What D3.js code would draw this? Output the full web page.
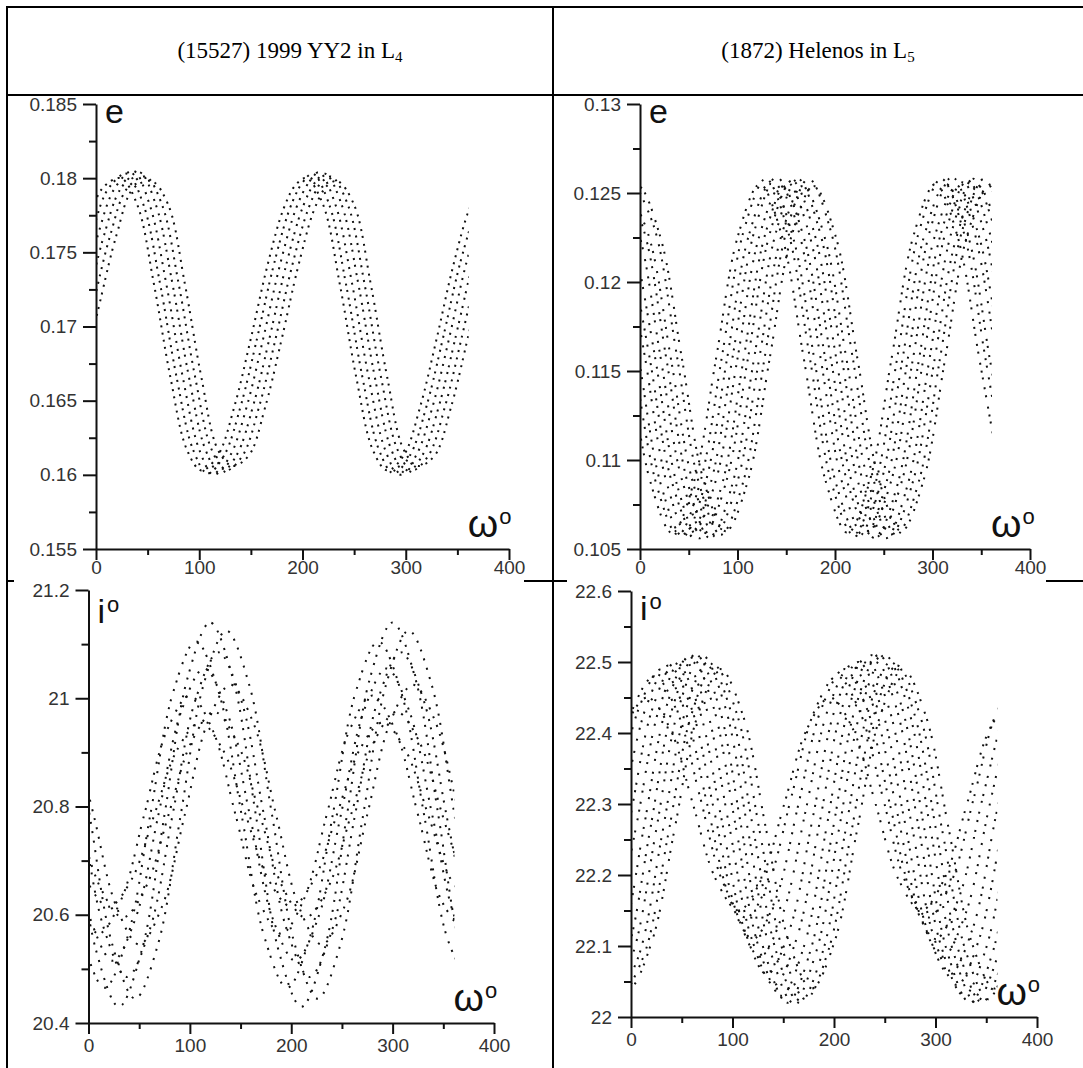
<!DOCTYPE html>
<html>
<head>
<meta charset="utf-8">
<script src="https://cdn.jsdelivr.net/npm/d3@7"></script>
<style>
  body { margin: 0; background: #fff; }
  svg text { font-family: "Liberation Sans", Arial, sans-serif; }
</style>
</head>
<body>
<svg id="fig" width="1083" height="1068"></svg>
<script>
// ---- data ----
// column titles
const titleTexts = [["(15527) 1999 YY2 in L", "4"], ["(1872) Helenos in L", "5"]];

// axis ticks
const omegaTicks = [0, 100, 200, 300, 400];
const omegaMinor = [50, 150, 250, 350];
const yy2ETicks = [0.155, 0.16, 0.165, 0.17, 0.175, 0.18, 0.185];
const yy2EMinor = [0.1575, 0.1625, 0.1675, 0.1725, 0.1775, 0.1825];
const helETicks = [0.105, 0.11, 0.115, 0.12, 0.125, 0.13];
const helEMinor = [0.1075, 0.1125, 0.1175, 0.1225, 0.1275];
const yy2ITicks = [20.4, 20.6, 20.8, 21, 21.2];
const yy2IMinor = [20.5, 20.7, 20.9, 21.1];
const helITicks = [22, 22.1, 22.2, 22.3, 22.4, 22.5, 22.6];
const helIMinor = [22.05, 22.15, 22.25, 22.35, 22.45, 22.55];

// dotted tracks [omega, value], traced along the dot streams of each plot
const yy2EStrands = [
  [[-26,.1717],[-10,.1762],[6,.1793],[24,.1800],[40,.1782],[56,.1729],[72,.1666],[88,.1617],[102,.1603],[118,.1613],[134,.1646],[150,.1692],[166,.1741],[182,.1780],[194,.1796],[204,.1800],[220,.1782],[236,.1729],[252,.1666],[268,.1617],[282,.1603],[298,.1613],[314,.1646],[330,.1692],[346,.1741],[362,.1780],[374,.1796]],
  [[-20,.1717],[-4,.1762],[12,.1793],[30,.1803],[46,.1782],[62,.1729],[78,.1666],[94,.1617],[108,.1601],[124,.1613],[140,.1646],[156,.1692],[172,.1741],[188,.1780],[200,.1797],[210,.1803],[226,.1782],[242,.1729],[258,.1666],[274,.1617],[288,.1601],[304,.1613],[320,.1646],[336,.1692],[352,.1741],[368,.1780]],
  [[-14,.1717],[2,.1762],[18,.1793],[36,.1805],[52,.1782],[68,.1729],[84,.1666],[100,.1617],[114,.1600],[130,.1613],[146,.1646],[162,.1692],[178,.1741],[194,.1780],[206,.1797],[216,.1804],[232,.1782],[248,.1729],[264,.1666],[280,.1617],[294,.1600],[310,.1613],[326,.1646],[342,.1692],[358,.1741],[374,.1780]],
  [[-24,.1668],[-8,.1717],[8,.1762],[24,.1793],[42,.1804],[58,.1782],[74,.1729],[90,.1666],[106,.1617],[120,.1601],[136,.1613],[152,.1646],[168,.1692],[184,.1741],[200,.1780],[212,.1797],[222,.1803],[238,.1782],[254,.1729],[270,.1666],[286,.1617],[300,.1601],[316,.1613],[332,.1646],[348,.1692],[364,.1741]],
  [[-18,.1668],[-2,.1717],[14,.1762],[30,.1793],[48,.1801],[64,.1782],[80,.1729],[96,.1666],[112,.1617],[126,.1603],[142,.1613],[158,.1646],[174,.1692],[190,.1741],[206,.1780],[218,.1797],[228,.1801],[244,.1782],[260,.1729],[276,.1666],[292,.1617],[306,.1603],[322,.1613],[338,.1646],[354,.1692],[370,.1741]],
  [[-12,.1668],[4,.1717],[20,.1762],[36,.1793],[54,.1798],[70,.1782],[86,.1729],[102,.1666],[118,.1617],[132,.1606],[148,.1613],[164,.1646],[180,.1692],[196,.1741],[212,.1780],[224,.1795],[234,.1798],[250,.1782],[266,.1729],[282,.1666],[298,.1617],[312,.1606],[328,.1613],[344,.1646],[360,.1692],[376,.1741]]
];

const helEStrands = [
  [[-12,.1157],[10.5,.1088],[33,.1059],[55.5,.1088],[78,.1157],[100.5,.1226],[123,.1255],[145.5,.1226],[168,.1157],[190.5,.1088],[213,.1059],[235.5,.1088],[258,.1157],[280.5,.1226],[303,.1255],[325.5,.1226],[348,.1157],[370.5,.1088]],
  [[-6,.1158],[16.5,.1087],[39,.1058],[61.5,.1087],[84,.1158],[106.5,.1229],[129,.1258],[151.5,.1229],[174,.1158],[196.5,.1087],[219,.1058],[241.5,.1087],[264,.1158],[286.5,.1229],[309,.1258],[331.5,.1229],[354,.1158],[376.5,.1087]],
  [[-23.5,.1226],[-1,.1156],[21.5,.1086],[44,.1057],[66.5,.1086],[89,.1156],[111.5,.1226],[134,.1255],[156.5,.1226],[179,.1156],[201.5,.1086],[224,.1057],[246.5,.1086],[269,.1156],[291.5,.1226],[314,.1255],[336.5,.1226],[359,.1156],[381.5,.1086]],
  [[-17.5,.1229],[5,.1158],[27.5,.1087],[50,.1057],[72.5,.1087],[95,.1158],[117.5,.1229],[140,.1259],[162.5,.1229],[185,.1158],[207.5,.1087],[230,.1057],[252.5,.1087],[275,.1158],[297.5,.1229],[320,.1259],[342.5,.1229],[365,.1158]],
  [[-12.5,.1226],[10,.1157],[32.5,.1088],[55,.1060],[77.5,.1088],[100,.1157],[122.5,.1226],[145,.1254],[167.5,.1226],[190,.1157],[212.5,.1088],[235,.1060],[257.5,.1088],[280,.1157],[302.5,.1226],[325,.1254],[347.5,.1226],[370,.1157]],
  [[-6.5,.1227],[16,.1156],[38.5,.1085],[61,.1056],[83.5,.1085],[106,.1156],[128.5,.1227],[151,.1256],[173.5,.1227],[196,.1156],[218.5,.1085],[241,.1056],[263.5,.1085],[286,.1156],[308.5,.1227],[331,.1256],[353.5,.1227],[376,.1156]],
  [[-24,.1257],[-1.5,.1228],[21,.1158],[43.5,.1088],[66,.1059],[88.5,.1088],[111,.1158],[133.5,.1228],[156,.1257],[178.5,.1228],[201,.1158],[223.5,.1088],[246,.1059],[268.5,.1088],[291,.1158],[313.5,.1228],[336,.1257],[358.5,.1228],[381,.1158]],
  [[-18,.1258],[4.5,.1228],[27,.1157],[49.5,.1086],[72,.1056],[94.5,.1086],[117,.1157],[139.5,.1228],[162,.1258],[184.5,.1228],[207,.1157],[229.5,.1086],[252,.1056],[274.5,.1086],[297,.1157],[319.5,.1228],[342,.1258],[364.5,.1228]],
  [[-13,.1254],[9.5,.1225],[32,.1156],[54.5,.1087],[77,.1058],[99.5,.1087],[122,.1156],[144.5,.1225],[167,.1254],[189.5,.1225],[212,.1156],[234.5,.1087],[257,.1058],[279.5,.1087],[302,.1156],[324.5,.1225],[347,.1254],[369.5,.1225]],
  [[-7,.1258],[15.5,.1229],[38,.1158],[60.5,.1087],[83,.1058],[105.5,.1087],[128,.1158],[150.5,.1229],[173,.1258],[195.5,.1229],[218,.1158],[240.5,.1087],[263,.1058],[285.5,.1087],[308,.1158],[330.5,.1229],[353,.1258],[375.5,.1229]],
  [[-24.5,.1226],[-2,.1254],[20.5,.1226],[43,.1157],[65.5,.1088],[88,.1060],[110.5,.1088],[133,.1157],[155.5,.1226],[178,.1254],[200.5,.1226],[223,.1157],[245.5,.1088],[268,.1060],[290.5,.1088],[313,.1157],[335.5,.1226],[358,.1254],[380.5,.1226]]
];

const yy2IStrands = [
  [[-15,20.785],[7.5,20.534],[30,20.430],[52.5,20.534],[75,20.785],[97.5,21.036],[120,21.140],[142.5,21.036],[165,20.785],[187.5,20.534],[210,20.430],[232.5,20.534],[255,20.785],[277.5,21.036],[300,21.140],[322.5,21.036],[345,20.785],[367.5,20.534],[390,20.430]],
  [[-21.5,21.025],[1,20.785],[23.5,20.545],[46,20.445],[68.5,20.545],[91,20.785],[113.5,21.025],[136,21.125],[158.5,21.025],[181,20.785],[203.5,20.545],[226,20.445],[248.5,20.545],[271,20.785],[293.5,21.025],[316,21.125],[338.5,21.025],[361,20.785],[383.5,20.545]],
  [[-29,20.785],[-6.5,20.559],[16,20.465],[38.5,20.559],[61,20.785],[83.5,21.011],[106,21.105],[128.5,21.011],[151,20.785],[173.5,20.559],[196,20.465],[218.5,20.559],[241,20.785],[263.5,21.011],[286,21.105],[308.5,21.011],[331,20.785],[353.5,20.559],[376,20.465]],
  [[-29.5,20.997],[-7,20.785],[15.5,20.573],[38,20.485],[60.5,20.573],[83,20.785],[105.5,20.997],[128,21.085],[150.5,20.997],[173,20.785],[195.5,20.573],[218,20.485],[240.5,20.573],[263,20.785],[285.5,20.997],[308,21.085],[330.5,20.997],[353,20.785],[375.5,20.573]],
  [[-21,20.785],[1.5,20.594],[24,20.515],[46.5,20.594],[69,20.785],[91.5,20.976],[114,21.055],[136.5,20.976],[159,20.785],[181.5,20.594],[204,20.515],[226.5,20.594],[249,20.785],[271.5,20.976],[294,21.055],[316.5,20.976],[339,20.785],[361.5,20.594],[384,20.515]],
  [[-17.5,20.955],[5,20.785],[27.5,20.615],[50,20.545],[72.5,20.615],[95,20.785],[117.5,20.955],[140,21.025],[162.5,20.955],[185,20.785],[207.5,20.615],[230,20.545],[252.5,20.615],[275,20.785],[297.5,20.955],[320,21.025],[342.5,20.955],[365,20.785]],
  [[-12.5,20.629],[10,20.565],[32.5,20.629],[55,20.785],[77.5,20.941],[100,21.005],[122.5,20.941],[145,20.785],[167.5,20.629],[190,20.565],[212.5,20.629],[235,20.785],[257.5,20.941],[280,21.005],[302.5,20.941],[325,20.785],[347.5,20.629],[370,20.565]],
  [[-11,20.785],[11.5,20.651],[34,20.595],[56.5,20.651],[79,20.785],[101.5,20.919],[124,20.975],[146.5,20.919],[169,20.785],[191.5,20.651],[214,20.595],[236.5,20.651],[259,20.785],[281.5,20.919],[304,20.975],[326.5,20.919],[349,20.785],[371.5,20.651]],
  [[-25,20.785],[-2.5,20.665],[20,20.615],[42.5,20.665],[65,20.785],[87.5,20.905],[110,20.955],[132.5,20.905],[155,20.785],[177.5,20.665],[200,20.615],[222.5,20.665],[245,20.785],[267.5,20.905],[290,20.955],[312.5,20.905],[335,20.785],[357.5,20.665],[380,20.615]]
];

const helIStrands = [
  [[-29,22.30],[-6.5,22.406],[16,22.45],[38.5,22.406],[61,22.30],[83.5,22.194],[106,22.15],[128.5,22.194],[151,22.30],[173.5,22.406],[196,22.45],[218.5,22.406],[241,22.30],[263.5,22.194],[286,22.15],[308.5,22.194],[331,22.30],[353.5,22.406],[376,22.45]],
  [[-22,22.31],[0.5,22.43],[23,22.48],[45.5,22.43],[68,22.31],[90.5,22.19],[113,22.14],[135.5,22.19],[158,22.31],[180.5,22.43],[203,22.48],[225.5,22.43],[248,22.31],[270.5,22.19],[293,22.14],[315.5,22.19],[338,22.31],[360.5,22.43],[383,22.48]],
  [[-15,22.30],[7.5,22.434],[30,22.49],[52.5,22.434],[75,22.30],[97.5,22.166],[120,22.11],[142.5,22.166],[165,22.30],[187.5,22.434],[210,22.49],[232.5,22.434],[255,22.30],[277.5,22.166],[300,22.11],[322.5,22.166],[345,22.30],[367.5,22.434]],
  [[-8,22.29],[14.5,22.435],[37,22.495],[59.5,22.435],[82,22.29],[104.5,22.145],[127,22.085],[149.5,22.145],[172,22.29],[194.5,22.435],[217,22.495],[239.5,22.435],[262,22.29],[284.5,22.145],[307,22.085],[329.5,22.145],[352,22.29],[374.5,22.435]],
  [[-23.5,22.124],[-1,22.28],[21.5,22.436],[44,22.50],[66.5,22.436],[89,22.28],[111.5,22.124],[134,22.06],[156.5,22.124],[179,22.28],[201.5,22.436],[224,22.50],[246.5,22.436],[269,22.28],[291.5,22.124],[314,22.06],[336.5,22.124],[359,22.28],[381.5,22.436]],
  [[-16.5,22.112],[6,22.275],[28.5,22.438],[51,22.505],[73.5,22.438],[96,22.275],[118.5,22.112],[141,22.045],[163.5,22.112],[186,22.275],[208.5,22.438],[231,22.505],[253.5,22.438],[276,22.275],[298.5,22.112],[321,22.045],[343.5,22.112],[366,22.275]],
  [[-32,22.03],[-9.5,22.10],[13,22.27],[35.5,22.44],[58,22.51],[80.5,22.44],[103,22.27],[125.5,22.10],[148,22.03],[170.5,22.10],[193,22.27],[215.5,22.44],[238,22.51],[260.5,22.44],[283,22.27],[305.5,22.10],[328,22.03],[350.5,22.10],[373,22.27]],
  [[-26,22.02],[-3.5,22.092],[19,22.265],[41.5,22.438],[64,22.51],[86.5,22.438],[109,22.265],[131.5,22.092],[154,22.02],[176.5,22.092],[199,22.265],[221.5,22.438],[244,22.51],[266.5,22.438],[289,22.265],[311.5,22.092],[334,22.02],[356.5,22.092],[379,22.265]],
  [[-20,22.02],[2.5,22.092],[25,22.265],[47.5,22.438],[70,22.51],[92.5,22.438],[115,22.265],[137.5,22.092],[160,22.02],[182.5,22.092],[205,22.265],[227.5,22.438],[250,22.51],[272.5,22.438],[295,22.265],[317.5,22.092],[340,22.02],[362.5,22.092]],
  [[-14,22.02],[8.5,22.09],[31,22.26],[53.5,22.43],[76,22.50],[98.5,22.43],[121,22.26],[143.5,22.09],[166,22.02],[188.5,22.09],[211,22.26],[233.5,22.43],[256,22.50],[278.5,22.43],[301,22.26],[323.5,22.09],[346,22.02],[368.5,22.09]],
  [[-8,22.025],[14.5,22.094],[37,22.26],[59.5,22.426],[82,22.495],[104.5,22.426],[127,22.26],[149.5,22.094],[172,22.025],[194.5,22.094],[217,22.26],[239.5,22.426],[262,22.495],[284.5,22.426],[307,22.26],[329.5,22.094],[352,22.025],[374.5,22.094]],
  [[-24.5,22.106],[-2,22.04],[20.5,22.106],[43,22.265],[65.5,22.424],[88,22.49],[110.5,22.424],[133,22.265],[155.5,22.106],[178,22.04],[200.5,22.106],[223,22.265],[245.5,22.424],[268,22.49],[290.5,22.424],[313,22.265],[335.5,22.106],[358,22.04],[380.5,22.106]]
];

// ---- layout ----
const svg = d3.select("#fig");
const ink = "#111";

// table rules
const frame = svg.append("g").attr("stroke", "#000").attr("stroke-width", 2);
frame.append("line").attr("x1", 7).attr("x2", 7).attr("y1", 6).attr("y2", 1068);
frame.append("line").attr("x1", 553).attr("x2", 553).attr("y1", 6).attr("y2", 1068);
frame.append("line").attr("x1", 6).attr("x2", 1083).attr("y1", 7).attr("y2", 7);
frame.append("line").attr("x1", 6).attr("x2", 1083).attr("y1", 95).attr("y2", 95);
[[6, 14], [524, 567], [1046, 1083]].forEach(s => {
  frame.append("line").attr("x1", s[0]).attr("x2", s[1]).attr("y1", 581).attr("y2", 581);
});

// column titles
const titleX = [290, 818];
titleTexts.forEach((t, i) => {
  const tx = svg.append("text")
    .attr("x", titleX[i]).attr("y", 58)
    .attr("text-anchor", "middle")
    .style("font-family", "'Liberation Serif', 'Times New Roman', serif")
    .style("font-size", "23px")
    .attr("fill", "#000");
  tx.append("tspan").text(t[0]);
  tx.append("tspan").attr("font-size", 15).attr("dy", 4).text(t[1]);
});

const panels = [
  { strands: yy2EStrands, ticks: yy2ETicks, minor: yy2EMinor, fmt: ".3~f", name: "e", deg: false,
    px: [96, 509], py: [549, 104], dom: [0.155, 0.185], nameDy: 19, xPad: 1,
    dash: ["2 5.2", "2 5.8 2 4.6", "2 6", "2 4.8 2 6.4", "2 5.5", "2 5 2 6"] },
  { strands: helEStrands, ticks: helETicks, minor: helEMinor, fmt: ".3~f", name: "e", deg: false,
    px: [640, 1030], py: [549, 104], dom: [0.105, 0.13], nameDy: 19, xPad: 1,
    dash: ["2 5 2 8 2 6 2 9.5 2 6", "2 7 2 5.5 2 10 2 6.5", "2 6 2 9 2 5 2 7.5",
           "2 8.5 2 5.5 2 6.5 2 10", "2 5.5 2 7 2 9 2 6"] },
  { strands: yy2IStrands, ticks: yy2ITicks, minor: yy2IMinor, fmt: ".1~f", name: "i", deg: true,
    px: [88.5, 494], py: [1023, 590], dom: [20.4, 21.2], nameDy: 33, xPad: 5,
    dash: ["2 6.5 2 8", "2 7.5", "2 6 2 9 2 7", "2 8 2 6.5"] },
  { strands: helIStrands, ticks: helITicks, minor: helIMinor, fmt: ".1~f", name: "i", deg: true,
    px: [631, 1037], py: [1017, 591], dom: [22, 22.6], nameDy: 29, xPad: 5,
    dash: ["2 6 2 9 2 5.5 2 10.5 2 7", "2 8 2 5.5 2 11 2 6", "2 6.5 2 9.5 2 5 2 8",
           "2 9 2 6 2 7 2 10.5", "2 5.5 2 8 2 10 2 6.5"] }
];

panels.forEach((p, pi) => {
  const x = d3.scaleLinear().domain([0, 400]).range(p.px);
  const y = d3.scaleLinear().domain(p.dom).range(p.py);
  const g = svg.append("g");

  // dots, restricted to 0..360 degrees
  const clipId = "clip" + pi;
  g.append("clipPath").attr("id", clipId).append("rect")
    .attr("x", x(0)).attr("y", p.py[1] - 4)
    .attr("width", x(360) - x(0) + 1).attr("height", p.py[0] - p.py[1] + 4);

  const line = d3.line()
    .x(d => x(d[0]))
    .y(d => y(d[1]))
    .curve(d3.curveCatmullRom.alpha(0.5));

  g.append("g").attr("clip-path", `url(#${clipId})`)
    .selectAll("path")
    .data(p.strands)
    .join("path")
    .attr("d", line)
    .attr("fill", "none")
    .attr("stroke", ink)
    .attr("stroke-width", 2)
    .attr("stroke-dasharray", (d, i) => p.dash[i % p.dash.length])
    .attr("stroke-dashoffset", (d, i) => i * 3.1);

  // minor ticks
  g.append("g").attr("transform", `translate(${x(0)},0)`)
    .call(d3.axisLeft(y).tickValues(p.minor).tickSize(7).tickFormat(""))
    .call(a => a.select(".domain").remove());
  g.append("g").attr("transform", `translate(0,${y(p.dom[0])})`)
    .call(d3.axisBottom(x).tickValues(omegaMinor).tickSize(6).tickFormat(""))
    .call(a => a.select(".domain").remove());

  // major axes
  g.append("g").attr("transform", `translate(${x(0)},0)`)
    .call(d3.axisLeft(y).tickValues(p.ticks).tickFormat(d3.format(p.fmt))
      .tickSize(13).tickSizeOuter(0).tickPadding(6));
  g.append("g").attr("transform", `translate(0,${y(p.dom[0])})`)
    .call(d3.axisBottom(x).tickValues(omegaTicks).tickFormat(d3.format("d"))
      .tickSize(11).tickSizeOuter(0).tickPadding(p.xPad));

  g.selectAll(".domain, .tick line").attr("stroke", ink).attr("stroke-width", 2);
  g.selectAll(".tick text")
    .attr("font-size", 19)
    .attr("font-family", "'Liberation Sans', Arial, sans-serif")
    .attr("fill", "#333");

  // variable name at top of the y axis
  const nm = g.append("text")
    .attr("x", x(0) + 9).attr("y", p.py[1] + p.nameDy)
    .attr("font-size", 34).attr("fill", ink)
    .text(p.name);
  if (p.deg) nm.append("tspan").attr("font-size", 22).attr("dy", -11).attr("dx", 2).text("o");

  // omega label
  const om = g.append("text")
    .attr("x", x(360)).attr("y", y(p.dom[0]) - 12)
    .attr("font-size", 39).attr("fill", ink)
    .text("ω");
  om.append("tspan").attr("font-size", 22).attr("dy", -13).attr("dx", 1).text("o");
});
</script>
</body>
</html>
